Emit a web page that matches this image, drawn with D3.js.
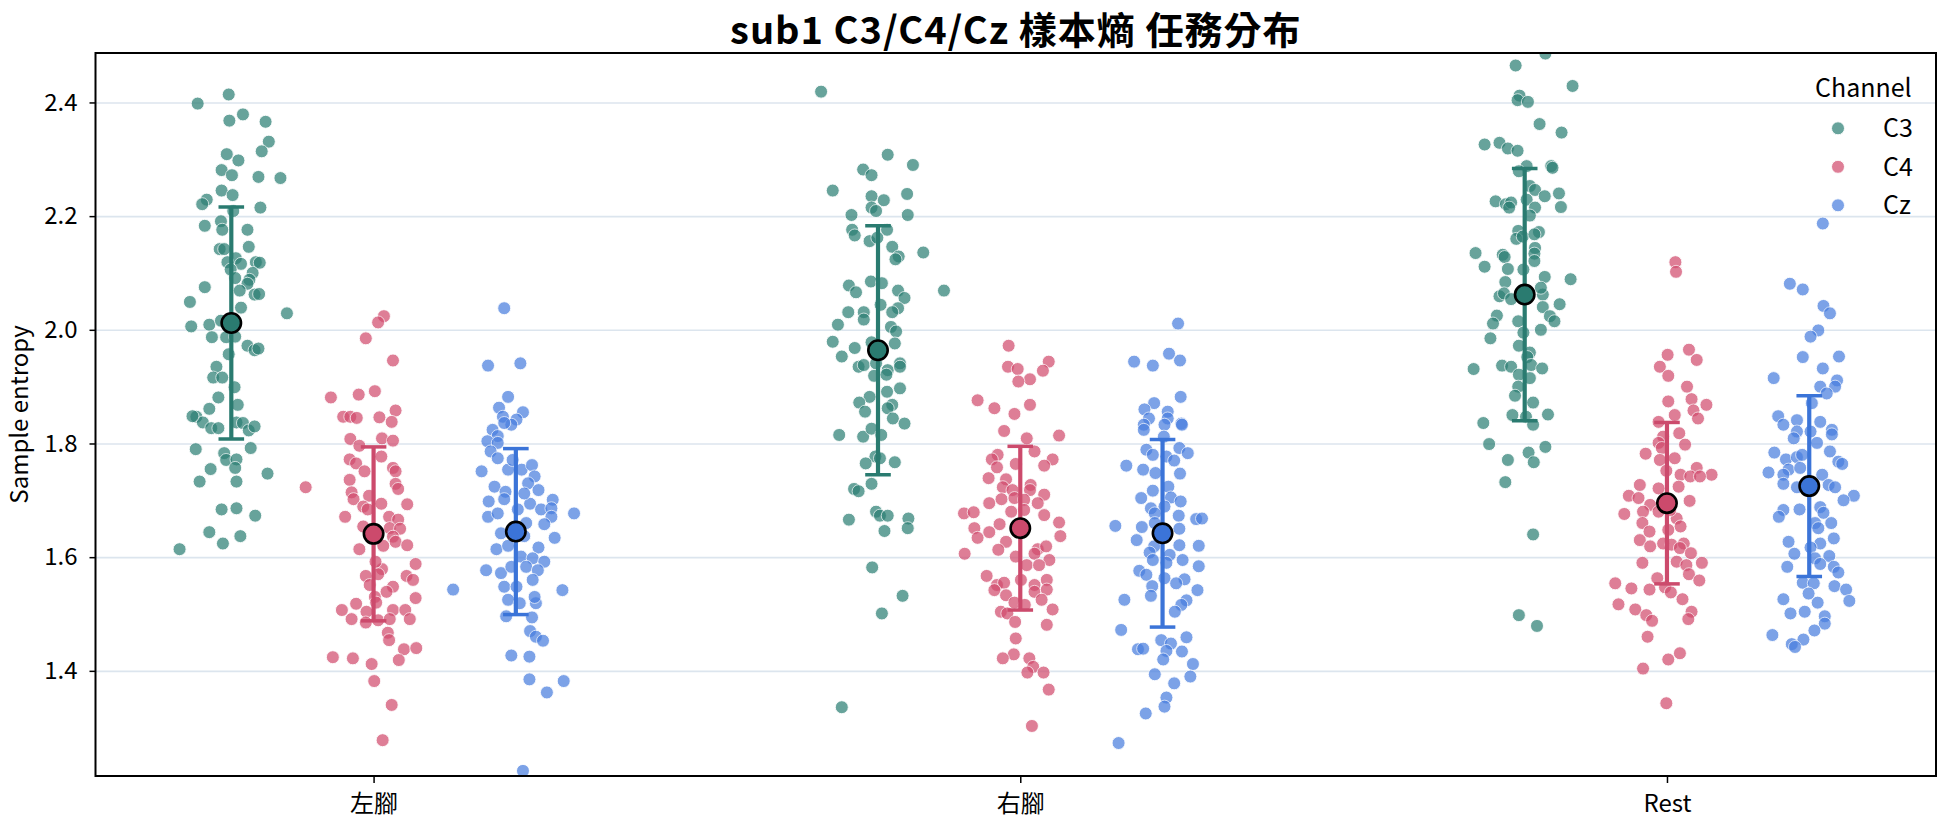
<!DOCTYPE html>
<html>
<head>
<meta charset="utf-8">
<script src="https://cdn.jsdelivr.net/npm/d3@7"></script>
<style>
    body { margin: 0; background: #fff; }
    text { font-family: "Noto Sans CJK TC", "Noto Sans", sans-serif; }
</style>
</head>
<body>
<div id="mainChart"></div>
<script>
// categories / channels / ticks
var categories = ["左腳", "右腳", "Rest"];
var channels = ["C3", "C4", "Cz"];
var yTicks = [1.4, 1.6, 1.8, 2.0, 2.2, 2.4];

// mean and sd per channel, in category order
var meanC3 = [2.012, 1.964, 2.062];
var meanC4 = [1.641, 1.651, 1.695];
var meanCz = [1.645, 1.642, 1.725];
var sdC3 = [0.204, 0.219, 0.222];
var sdC4 = [0.153, 0.144, 0.142];
var sdCz = [0.146, 0.165, 0.159];

// trials: [jitter, sample entropy]
var leftC3 = [[-0.052,2.398],[-0.004,2.414],[0.018,2.379],[-0.003,2.368],[0.053,2.366],[0.058,2.331],[0.047,2.314],[-0.007,2.309],[0.011,2.298],[-0.015,2.281],[0.001,2.272],[0.042,2.269],[0.076,2.267],[-0.015,2.245],[0.002,2.237],[-0.038,2.229],[-0.045,2.221],[0.045,2.215],[0.003,2.209],[-0.016,2.191],[-0.041,2.183],[-0.014,2.176],[0.025,2.176],[0.027,2.146],[-0.018,2.142],[-0.011,2.142],[0.007,2.126],[-0.006,2.119],[0.015,2.116],[0.038,2.119],[0.044,2.118],[-0.001,2.106],[0.033,2.100],[0.006,2.091],[0.028,2.088],[0.025,2.081],[-0.041,2.075],[0.013,2.069],[0.036,2.062],[0.043,2.063],[-0.064,2.049],[0.015,2.039],[0.086,2.029],[-0.062,2.006],[-0.034,2.009],[-0.016,2.016],[-0.030,1.987],[-0.008,1.987],[0.006,1.988],[0.025,1.972],[0.036,1.964],[0.042,1.967],[-0.004,1.957],[-0.023,1.935],[-0.028,1.916],[-0.014,1.916],[0.005,1.899],[-0.020,1.881],[0.010,1.868],[-0.034,1.861],[-0.054,1.847],[-0.044,1.837],[-0.031,1.827],[-0.020,1.827],[0.008,1.837],[0.018,1.836],[0.027,1.823],[0.036,1.830],[-0.055,1.790],[-0.011,1.783],[-0.008,1.771],[0.008,1.772],[0.030,1.792],[-0.032,1.755],[0.006,1.757],[0.056,1.747],[-0.049,1.733],[0.008,1.733],[-0.015,1.684],[0.008,1.686],[0.037,1.673],[-0.034,1.644],[0.014,1.637],[-0.013,1.624],[-0.080,1.614],[-0.060,1.848]];
var leftC4 = [[0.016,2.024],[0.007,2.013],[-0.012,1.985],[0.030,1.946],[-0.066,1.881],[-0.023,1.886],[0.002,1.892],[0.034,1.858],[-0.047,1.847],[-0.036,1.847],[-0.026,1.845],[0.009,1.846],[0.028,1.838],[0.013,1.809],[0.030,1.805],[-0.036,1.808],[-0.022,1.796],[-0.037,1.772],[-0.027,1.765],[-0.014,1.751],[0.030,1.757],[0.034,1.751],[-0.037,1.736],[0.034,1.729],[0.038,1.720],[-0.105,1.723],[-0.034,1.714],[-0.031,1.702],[-0.007,1.708],[-0.016,1.689],[-0.009,1.684],[0.012,1.694],[0.052,1.693],[-0.044,1.671],[0.024,1.671],[0.038,1.666],[-0.016,1.654],[0.025,1.651],[0.041,1.650],[0.030,1.636],[0.034,1.627],[0.015,1.620],[0.052,1.621],[-0.022,1.614],[0.065,1.588],[0.013,1.579],[0.007,1.570],[-0.012,1.567],[0.051,1.567],[0.061,1.560],[-0.006,1.551],[0.030,1.548],[0.020,1.539],[0.002,1.530],[0.065,1.528],[-0.027,1.518],[0.004,1.520],[-0.049,1.507],[-0.011,1.504],[0.030,1.507],[0.049,1.507],[-0.034,1.491],[-0.012,1.485],[0.007,1.489],[0.025,1.491],[0.056,1.491],[0.022,1.467],[0.024,1.454],[0.047,1.438],[0.066,1.440],[-0.063,1.424],[-0.032,1.422],[-0.003,1.412],[0.039,1.419],[0.001,1.382],[0.028,1.340],[0.014,1.278],[0.012,1.777],[0.003,1.592]];
var leftCz = [[-0.018,2.038],[-0.043,1.937],[0.007,1.941],[-0.012,1.882],[-0.026,1.863],[0.011,1.855],[-0.020,1.847],[0.001,1.842],[-0.007,1.833],[-0.018,1.836],[-0.036,1.824],[-0.028,1.813],[-0.044,1.804],[-0.028,1.801],[-0.039,1.786],[-0.028,1.774],[-0.053,1.751],[-0.012,1.754],[0.009,1.754],[0.025,1.762],[0.029,1.742],[0.019,1.730],[-0.033,1.724],[-0.016,1.715],[0.035,1.718],[-0.042,1.698],[-0.018,1.702],[0.022,1.694],[0.057,1.701],[0.039,1.684],[0.055,1.686],[0.003,1.684],[-0.043,1.671],[-0.028,1.677],[0.055,1.671],[0.090,1.677],[0.016,1.660],[0.044,1.658],[-0.023,1.642],[0.013,1.637],[0.060,1.634],[-0.030,1.614],[-0.012,1.620],[0.035,1.617],[0.008,1.601],[0.026,1.598],[0.044,1.592],[-0.046,1.577],[-0.023,1.572],[-0.007,1.583],[0.016,1.583],[0.034,1.577],[-0.018,1.548],[0.001,1.548],[0.026,1.560],[-0.097,1.543],[0.072,1.542],[-0.012,1.525],[0.006,1.519],[0.031,1.519],[0.029,1.530],[-0.015,1.496],[0.025,1.494],[0.022,1.470],[0.031,1.460],[0.042,1.453],[-0.007,1.427],[0.021,1.425],[0.021,1.385],[0.074,1.382],[0.048,1.362],[0.011,1.224],[-0.005,1.771],[0.013,1.712]];
var rightC3 = [[-0.088,2.419],[0.015,2.308],[0.054,2.290],[-0.023,2.282],[-0.010,2.272],[-0.070,2.245],[-0.010,2.235],[0.009,2.228],[0.045,2.239],[-0.010,2.215],[-0.003,2.209],[-0.041,2.202],[0.046,2.202],[-0.040,2.176],[-0.036,2.166],[0.014,2.176],[-0.013,2.156],[-0.001,2.162],[0.022,2.146],[0.032,2.129],[0.027,2.124],[0.070,2.136],[-0.011,2.085],[0.006,2.082],[-0.045,2.078],[-0.034,2.066],[0.031,2.069],[0.041,2.056],[0.102,2.069],[0.004,2.044],[0.031,2.038],[0.022,2.031],[-0.046,2.031],[-0.022,2.031],[-0.022,2.018],[-0.062,2.009],[0.020,2.005],[0.028,1.997],[-0.070,1.979],[-0.010,1.978],[0.026,1.976],[-0.036,1.968],[-0.056,1.953],[-0.030,1.935],[-0.022,1.938],[-0.003,1.941],[0.034,1.941],[0.015,1.929],[0.034,1.935],[-0.006,1.919],[0.013,1.921],[0.034,1.897],[0.014,1.891],[-0.013,1.882],[-0.029,1.872],[0.022,1.868],[-0.020,1.856],[0.015,1.862],[0.023,1.844],[0.041,1.835],[-0.060,1.815],[-0.023,1.812],[-0.010,1.826],[0.005,1.815],[-0.004,1.777],[0.003,1.774],[-0.019,1.765],[0.026,1.767],[-0.010,1.729],[-0.037,1.720],[-0.030,1.716],[-0.003,1.680],[0.003,1.673],[0.015,1.673],[-0.045,1.666],[0.047,1.668],[0.046,1.651],[0.010,1.646],[-0.009,1.582],[0.038,1.532],[0.006,1.501],[-0.056,1.336]];
var rightC4 = [[-0.018,1.972],[0.044,1.944],[-0.019,1.935],[-0.004,1.931],[0.035,1.928],[0.015,1.913],[-0.003,1.909],[-0.066,1.876],[-0.040,1.862],[0.015,1.868],[-0.009,1.852],[-0.025,1.822],[0.010,1.809],[0.060,1.814],[0.022,1.786],[-0.035,1.780],[-0.044,1.772],[0.050,1.772],[-0.036,1.758],[-0.007,1.764],[0.037,1.761],[-0.049,1.739],[-0.022,1.737],[-0.027,1.723],[0.016,1.727],[-0.012,1.718],[0.015,1.718],[0.037,1.710],[-0.048,1.695],[-0.029,1.702],[-0.009,1.704],[0.006,1.701],[0.027,1.695],[-0.087,1.677],[-0.072,1.679],[-0.014,1.680],[0.006,1.683],[0.037,1.674],[0.060,1.661],[-0.071,1.651],[-0.048,1.644],[-0.032,1.658],[0.062,1.637],[-0.066,1.634],[-0.022,1.627],[0.027,1.614],[0.040,1.619],[-0.034,1.613],[0.022,1.606],[-0.086,1.606],[-0.007,1.601],[0.045,1.595],[0.010,1.586],[0.029,1.586],[-0.052,1.567],[0.001,1.560],[0.041,1.560],[-0.036,1.551],[-0.025,1.555],[0.022,1.551],[-0.040,1.542],[-0.022,1.533],[0.022,1.539],[0.041,1.543],[-0.009,1.520],[0.007,1.516],[0.033,1.525],[-0.030,1.504],[-0.020,1.501],[0.050,1.508],[-0.008,1.486],[0.041,1.481],[-0.007,1.457],[-0.010,1.429],[-0.027,1.422],[0.014,1.422],[0.020,1.407],[0.011,1.397],[0.036,1.397],[0.044,1.367],[0.018,1.303]];
var rightCz = [[0.024,2.011],[-0.044,1.944],[-0.015,1.937],[0.010,1.958],[0.027,1.946],[0.028,1.882],[-0.013,1.871],[-0.028,1.860],[0.008,1.856],[-0.021,1.844],[0.008,1.844],[0.029,1.835],[-0.029,1.833],[0.003,1.833],[0.030,1.833],[-0.029,1.824],[0.002,1.812],[-0.025,1.789],[-0.015,1.780],[0.026,1.792],[0.039,1.783],[0.006,1.777],[0.018,1.770],[-0.056,1.761],[-0.030,1.754],[-0.011,1.748],[0.027,1.747],[0.009,1.724],[-0.015,1.717],[-0.033,1.704],[0.013,1.705],[0.028,1.698],[-0.018,1.686],[0.003,1.689],[-0.012,1.677],[0.025,1.673],[0.052,1.667],[0.061,1.668],[-0.073,1.655],[-0.032,1.653],[-0.012,1.660],[0.026,1.650],[-0.040,1.630],[-0.013,1.619],[0.026,1.621],[0.056,1.620],[-0.020,1.608],[0.011,1.604],[-0.015,1.595],[0.031,1.595],[0.006,1.590],[0.056,1.584],[-0.036,1.576],[-0.025,1.569],[0.003,1.563],[0.034,1.561],[0.021,1.554],[-0.016,1.549],[0.054,1.542],[-0.059,1.525],[-0.018,1.532],[0.037,1.524],[0.029,1.516],[0.019,1.504],[-0.064,1.472],[-0.002,1.454],[0.013,1.448],[0.037,1.459],[-0.038,1.438],[-0.030,1.439],[0.006,1.435],[0.030,1.434],[0.001,1.420],[0.047,1.412],[-0.012,1.394],[0.043,1.390],[0.018,1.378],[0.006,1.353],[0.003,1.337],[-0.026,1.325],[-0.068,1.273]];
var restC3 = [[0.032,2.486],[-0.014,2.465],[0.074,2.429],[-0.008,2.412],[-0.011,2.404],[0.005,2.401],[0.023,2.362],[0.057,2.347],[-0.062,2.326],[-0.039,2.329],[-0.026,2.319],[-0.011,2.315],[0.003,2.288],[0.041,2.288],[0.043,2.285],[-0.009,2.279],[0.008,2.253],[0.016,2.246],[0.031,2.235],[0.053,2.240],[-0.045,2.226],[-0.029,2.221],[-0.021,2.224],[-0.024,2.215],[0.003,2.229],[0.016,2.215],[0.056,2.216],[0.008,2.201],[-0.010,2.174],[0.022,2.172],[-0.013,2.160],[-0.003,2.164],[0.015,2.168],[0.016,2.144],[-0.076,2.135],[-0.034,2.132],[-0.031,2.128],[0.015,2.134],[0.015,2.121],[-0.062,2.111],[-0.026,2.107],[-0.002,2.106],[0.031,2.093],[0.071,2.089],[-0.030,2.084],[-0.039,2.059],[-0.032,2.064],[-0.021,2.054],[0.028,2.062],[0.025,2.074],[0.054,2.045],[0.028,2.040],[-0.043,2.025],[-0.049,2.011],[-0.010,2.015],[0.039,2.024],[0.046,2.015],[-0.002,1.995],[0.025,2.000],[-0.053,1.985],[-0.009,1.972],[0.008,1.960],[0.004,1.952],[-0.079,1.931],[-0.035,1.937],[-0.021,1.935],[0.010,1.938],[0.027,1.932],[-0.009,1.921],[0.008,1.915],[-0.010,1.900],[-0.015,1.884],[0.013,1.872],[-0.019,1.850],[0.036,1.851],[0.002,1.847],[-0.064,1.836],[0.013,1.833],[-0.055,1.799],[0.032,1.794],[0.006,1.784],[-0.026,1.771],[0.014,1.767],[-0.030,1.732],[0.013,1.640],[-0.009,1.498],[0.019,1.479]];
var restC4 = [[0.013,2.119],[0.014,2.102],[0.001,1.956],[0.034,1.965],[0.046,1.947],[-0.011,1.935],[0.002,1.919],[0.031,1.900],[0.002,1.874],[0.038,1.878],[0.061,1.868],[0.041,1.858],[0.012,1.850],[0.048,1.844],[-0.013,1.838],[-0.006,1.812],[0.019,1.818],[-0.013,1.801],[0.028,1.798],[-0.008,1.792],[-0.033,1.782],[0.012,1.774],[-0.011,1.771],[-0.001,1.752],[0.046,1.757],[0.021,1.745],[0.036,1.742],[0.069,1.745],[0.051,1.742],[0.018,1.724],[-0.042,1.727],[-0.013,1.721],[-0.059,1.708],[-0.044,1.704],[-0.026,1.692],[0.035,1.699],[-0.066,1.676],[-0.037,1.680],[-0.013,1.680],[0.015,1.668],[-0.038,1.660],[0.021,1.654],[-0.027,1.645],[0.002,1.648],[-0.042,1.630],[-0.006,1.624],[0.007,1.622],[0.026,1.624],[-0.026,1.619],[0.020,1.616],[0.037,1.607],[-0.038,1.590],[0.015,1.592],[0.030,1.586],[0.054,1.590],[0.034,1.570],[0.050,1.559],[-0.015,1.563],[-0.080,1.554],[-0.055,1.545],[-0.027,1.543],[-0.003,1.547],[0.006,1.538],[0.024,1.526],[-0.075,1.517],[-0.049,1.508],[-0.032,1.498],[-0.023,1.488],[0.038,1.504],[0.033,1.491],[-0.030,1.460],[0.020,1.431],[0.002,1.420],[-0.037,1.404],[-0.001,1.343],[0.005,1.683]];
var restCz = [[0.021,2.187],[-0.030,2.081],[-0.010,2.071],[0.022,2.042],[0.032,2.029],[0.014,1.999],[0.002,1.988],[0.046,1.953],[-0.010,1.952],[0.021,1.932],[-0.055,1.915],[0.043,1.911],[0.017,1.900],[0.040,1.900],[0.027,1.888],[0.004,1.871],[-0.048,1.848],[-0.019,1.841],[0.017,1.838],[-0.040,1.833],[0.035,1.824],[-0.019,1.821],[0.002,1.821],[-0.024,1.809],[0.012,1.801],[0.035,1.816],[-0.054,1.784],[0.032,1.786],[-0.036,1.772],[-0.019,1.776],[-0.011,1.780],[0.045,1.768],[0.051,1.764],[-0.032,1.754],[-0.014,1.757],[-0.063,1.749],[-0.040,1.745],[0.020,1.745],[-0.040,1.729],[-0.019,1.723],[0.030,1.727],[0.040,1.723],[0.069,1.708],[0.053,1.700],[-0.040,1.683],[-0.047,1.671],[-0.015,1.684],[0.017,1.688],[0.022,1.678],[0.034,1.660],[0.009,1.660],[0.014,1.651],[0.038,1.633],[-0.032,1.627],[0.017,1.624],[0.002,1.617],[-0.023,1.606],[0.031,1.602],[0.009,1.598],[-0.034,1.583],[0.017,1.588],[0.038,1.583],[0.045,1.573],[-0.010,1.555],[0.007,1.554],[0.039,1.549],[0.057,1.543],[-0.001,1.536],[-0.040,1.526],[0.013,1.520],[0.062,1.523],[-0.029,1.501],[-0.007,1.504],[0.024,1.496],[0.024,1.483],[-0.057,1.463],[0.008,1.471],[-0.009,1.455],[-0.027,1.447],[-0.022,1.442]];

var width = 1944, height = 827;
var plotLeft = 95.5, plotRight = 1936, plotTop = 53, plotBottom = 776;

var pointColors = ["#2e8075", "#d24d6f", "#4a7fdf"];
var meanColors = ["#2a7b70", "#cc4a6c", "#3b74d8"];
var dodge = [-0.22, 0, 0.22];

var trials = [[leftC3, rightC3, restC3], [leftC4, rightC4, restC4], [leftCz, rightCz, restCz]];
var means = [meanC3, meanC4, meanCz];
var sds = [sdC3, sdC4, sdCz];

var svg = d3.select("#mainChart").append("svg")
    .attr("width", width)
    .attr("height", height)
    .style("display", "block");

var x = d3.scaleLinear().domain([-0.43, 2.416]).range([plotLeft, plotRight]);
var y = d3.scaleLinear().domain([1.215, 2.487]).range([plotBottom, plotTop]);

svg.append("clipPath").attr("id", "plotClip")
    .append("rect")
    .attr("x", plotLeft).attr("y", plotTop)
    .attr("width", plotRight - plotLeft).attr("height", plotBottom - plotTop);

// grid
var grid = svg.append("g")
    .attr("transform", "translate(" + plotLeft + ",0)")
    .call(d3.axisLeft(y).tickValues(yTicks).tickSize(-(plotRight - plotLeft)).tickFormat(""));
grid.select(".domain").remove();
grid.selectAll("line").attr("stroke", "#dce5ee").attr("stroke-width", 1.6);

var plot = svg.append("g").attr("clip-path", "url(#plotClip)");

// jittered trials
channels.forEach(function (ch, j) {
    categories.forEach(function (cat, i) {
        plot.append("g")
            .selectAll("circle")
            .data(trials[j][i])
            .enter().append("circle")
            .attr("cx", function (d) { return x(i + dodge[j] + d[0]); })
            .attr("cy", function (d) { return y(d[1]); })
            .attr("r", 6.5)
            .attr("fill", pointColors[j])
            .attr("stroke", "#ffffff")
            .attr("stroke-width", 0.9)
            .attr("opacity", 0.72);
    });
});

// mean +- sd
channels.forEach(function (ch, j) {
    var g = plot.append("g");
    categories.forEach(function (cat, i) {
        var cx = x(i + dodge[j]);
        var lo = y(means[j][i] - sds[j][i]), hi = y(means[j][i] + sds[j][i]);
        g.append("line").attr("x1", cx).attr("x2", cx).attr("y1", lo).attr("y2", hi)
            .attr("stroke", meanColors[j]).attr("stroke-width", 4.2);
        [lo, hi].forEach(function (cy) {
            g.append("line").attr("x1", cx - 12.8).attr("x2", cx + 12.8).attr("y1", cy).attr("y2", cy)
                .attr("stroke", meanColors[j]).attr("stroke-width", 3.5);
        });
        g.append("circle").attr("cx", cx).attr("cy", y(means[j][i])).attr("r", 9.7)
            .attr("fill", meanColors[j]).attr("stroke", "#000").attr("stroke-width", 2.6);
    });
});

// axes
var yAxis = svg.append("g")
    .attr("transform", "translate(" + plotLeft + ",0)")
    .call(d3.axisLeft(y).tickValues(yTicks).tickSize(6).tickPadding(12).tickFormat(d3.format(".1f")));
yAxis.select(".domain").remove();
yAxis.selectAll("line").attr("stroke", "#000").attr("stroke-width", 1.5);
yAxis.selectAll("text").attr("font-size", 24).attr("fill", "#000")
    .style("font-family", "'Noto Sans CJK TC', sans-serif");

var xAxis = svg.append("g")
    .attr("transform", "translate(0," + plotBottom + ")")
    .call(d3.axisBottom(x).tickValues([0, 1, 2]).tickSize(7).tickPadding(12)
        .tickFormat(function (d) { return categories[d]; }));
xAxis.select(".domain").remove();
xAxis.selectAll("line").attr("stroke", "#000").attr("stroke-width", 1.5);
xAxis.selectAll("text").attr("font-size", 24).attr("fill", "#000")
    .style("font-family", "'Noto Sans CJK TC', sans-serif");

svg.append("rect")
    .attr("x", plotLeft).attr("y", plotTop)
    .attr("width", plotRight - plotLeft).attr("height", plotBottom - plotTop)
    .attr("fill", "none").attr("stroke", "#000").attr("stroke-width", 2);

// labels
svg.append("text")
    .attr("x", (plotLeft + plotRight) / 2).attr("y", 44)
    .attr("text-anchor", "middle")
    .attr("font-size", 38).attr("font-weight", 700)
    .attr("letter-spacing", 1)
    .text("sub1 C3/C4/Cz 樣本熵 任務分布");

svg.append("text")
    .attr("transform", "translate(28," + (plotTop + plotBottom) / 2 + ") rotate(-90)")
    .attr("text-anchor", "middle")
    .attr("font-size", 24)
    .text("Sample entropy");

// legend
var legend = svg.append("g");
legend.append("text").attr("x", 1815).attr("y", 97).attr("font-size", 25).text("Channel");
channels.forEach(function (ch, j) {
    var ly = 128.3 + j * 38.5;
    legend.append("circle").attr("cx", 1838).attr("cy", ly).attr("r", 6.5)
        .attr("fill", pointColors[j]).attr("stroke", "#fff").attr("stroke-width", 0.9).attr("opacity", 0.72);
    legend.append("text").attr("x", 1883).attr("y", ly).attr("dy", "0.35em")
        .attr("font-size", 25).text(ch);
});
</script>
</body>
</html>
